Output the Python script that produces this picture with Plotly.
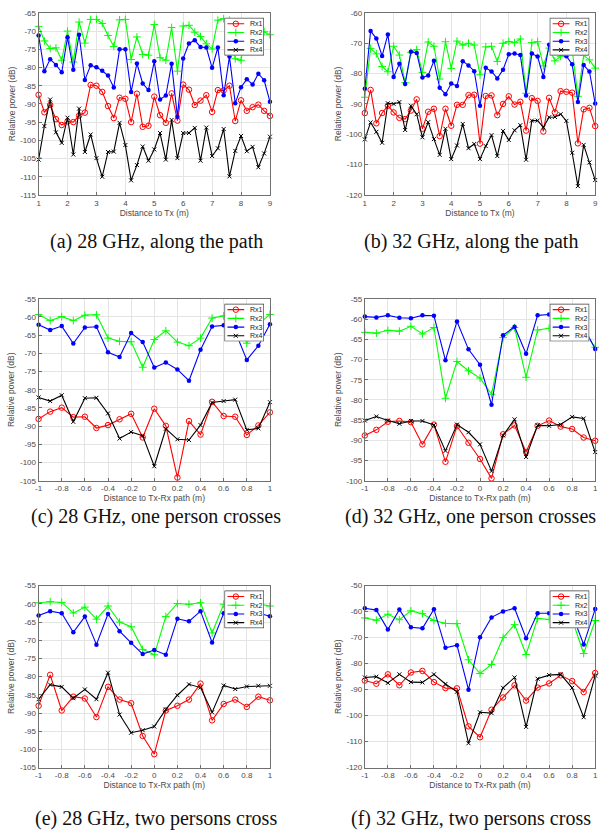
import plotly.graph_objects as go

W, H = 614, 835

# measurement positions
dist_path = [round(1 + 0.2 * i, 1) for i in range(41)]      # 1 .. 9 m
dist_cross = [round(-1 + 0.1 * i, 1) for i in range(21)]    # -1 .. 1 m

# (a) 28 GHz, along the path
a_rx1 = [-87.5, -92.3, -90.3, -94.2, -95.8, -94.8, -95.0, -93.2, -92.4, -84.8, -85.0, -86.7, -90.6, -93.9,
         -88.3, -88.6, -95.0, -87.2, -96.3, -96.0, -88.0, -93.1, -95.2, -87.1, -94.6, -84.7, -86.1, -90.3,
         -89.1, -87.6, -92.2, -86.2, -86.3, -85.0, -94.7, -89.0, -91.9, -90.9, -90.2, -91.9, -93.3]
a_rx2 = [-68.7, -72.7, -74.8, -74.6, -78.0, -70.0, -78.5, -67.5, -73.3, -66.8, -66.8, -67.9, -71.2, -74.2,
         -66.9, -66.8, -77.8, -71.6, -76.4, -76.6, -68.2, -77.3, -78.0, -69.0, -81.0, -68.6, -68.4, -70.3,
         -71.5, -73.5, -74.9, -67.0, -66.6, -67.0, -77.6, -78.0, -69.0, -68.0, -69.0, -70.2, -71.0]
a_rx3 = [-71.2, -81.0, -77.7, -79.3, -81.3, -71.7, -80.6, -71.0, -83.4, -79.4, -79.9, -80.9, -82.2, -85.5,
         -75.0, -75.0, -86.7, -78.9, -84.4, -86.2, -78.3, -88.8, -87.7, -79.0, -93.5, -77.5, -73.4, -72.5,
         -74.4, -74.5, -80.1, -74.5, -87.6, -77.0, -89.8, -85.4, -83.2, -84.7, -81.7, -83.5, -89.4]
a_rx4 = [-105.3, -96.1, -88.8, -97.8, -100.7, -93.8, -103.9, -91.3, -103.2, -98.4, -104.9, -110.0, -103.2,
         -103.1, -95.2, -101.3, -111.0, -106.8, -101.7, -105.6, -102.5, -98.0, -105.3, -94.4, -104.9, -98.0,
         -98.0, -96.6, -105.6, -96.5, -104.3, -102.2, -96.9, -109.9, -102.9, -98.8, -103.0, -101.8, -107.4,
         -103.6, -99.0]

# (b) 32 GHz, along the path
b_rx1 = [-93.0, -85.4, -96.4, -93.0, -90.6, -92.8, -94.6, -95.0, -92.2, -88.5, -98.2, -92.6, -91.6, -100.6,
         -91.6, -97.2, -90.3, -90.3, -87.1, -87.0, -103.1, -87.4, -87.2, -93.7, -90.0, -87.5, -90.2, -89.3,
         -98.8, -88.1, -89.0, -99.1, -88.0, -92.8, -85.8, -86.0, -86.3, -103.0, -91.8, -91.3, -97.3]
b_rx2 = [-87.8, -71.7, -73.5, -77.7, -79.4, -71.0, -73.9, -83.0, -73.0, -72.1, -79.6, -69.6, -71.0, -81.8,
         -69.5, -78.3, -69.3, -70.6, -70.0, -70.6, -80.4, -71.2, -71.0, -76.0, -70.0, -69.4, -69.8, -68.6,
         -86.5, -69.8, -69.5, -77.5, -71.6, -75.8, -74.3, -73.0, -72.0, -87.5, -74.0, -75.5, -78.2]
b_rx3 = [-85.0, -66.0, -68.4, -74.2, -67.1, -81.1, -76.8, -83.4, -72.8, -73.2, -81.3, -80.6, -75.8, -84.7,
         -86.8, -83.3, -84.1, -75.9, -77.3, -79.2, -90.6, -78.1, -79.3, -81.6, -78.7, -73.6, -73.4, -73.9,
         -87.2, -73.4, -74.4, -81.1, -70.5, -70.0, -73.5, -74.3, -76.9, -89.4, -77.2, -79.3, -89.9]
b_rx4 = [-101.7, -96.1, -99.2, -102.8, -89.8, -90.0, -89.4, -98.6, -90.6, -93.4, -101.0, -96.0, -101.6,
         -106.8, -98.2, -108.2, -103.7, -96.6, -104.6, -103.2, -108.2, -103.9, -100.3, -107.2, -98.9, -101.9,
         -98.7, -97.0, -108.4, -95.5, -95.5, -97.7, -94.4, -94.3, -93.4, -95.6, -106.1, -117.1, -103.5,
         -109.3, -115.1]

# (c) 28 GHz, one person crosses
c_rx1 = [-88.0, -86.0, -84.9, -87.5, -87.4, -90.5, -89.7, -88.1, -86.6, -93.1, -85.2, -89.9, -104.1, -88.6,
         -92.3, -83.3, -87.2, -87.4, -92.4, -89.8, -86.2]
c_rx2 = [-59.3, -61.0, -59.9, -61.0, -59.5, -59.4, -65.8, -66.7, -66.8, -73.8, -66.2, -63.8, -66.9, -67.9,
         -65.8, -60.3, -59.7, -60.0, -67.2, -62.0, -59.3]
c_rx3 = [-62.1, -63.6, -62.5, -67.3, -62.9, -62.7, -69.7, -71.0, -64.4, -66.9, -73.9, -72.5, -74.4, -77.5,
         -69.0, -62.6, -62.3, -64.0, -71.8, -67.9, -62.0]
c_rx4 = [-82.1, -83.1, -81.5, -88.8, -82.3, -82.2, -86.5, -93.4, -91.6, -92.6, -101.0, -90.7, -93.6, -93.8,
         -89.7, -83.5, -83.1, -82.7, -91.0, -90.6, -83.4]

# (d) 32 GHz, one person crosses
d_rx1 = [-88.8, -87.4, -85.4, -85.2, -85.5, -91.0, -86.1, -95.3, -86.5, -90.6, -94.6, -99.4, -88.5, -86.3,
         -92.9, -86.4, -85.1, -86.6, -87.2, -89.3, -90.1]
d_rx2 = [-63.3, -63.5, -62.8, -63.0, -61.8, -63.7, -62.1, -79.6, -70.5, -72.8, -74.6, -78.6, -64.6, -62.1,
         -74.4, -62.7, -62.3, -62.0, -63.0, -63.0, -67.0]
d_rx3 = [-59.4, -59.6, -59.1, -59.7, -59.8, -59.1, -59.2, -70.2, -60.6, -67.5, -71.3, -81.2, -64.0, -61.9,
         -68.6, -59.1, -58.9, -59.0, -58.5, -62.0, -67.4]
d_rx4 = [-85.1, -84.1, -85.1, -85.9, -85.2, -85.2, -86.2, -92.6, -86.1, -88.0, -91.0, -97.6, -88.8, -84.8,
         -94.1, -86.3, -86.4, -86.1, -84.2, -84.6, -92.9]

# (e) 28 GHz, two persons cross
e_rx1 = [-88.0, -79.5, -89.3, -85.5, -86.0, -91.1, -82.8, -86.3, -87.3, -96.3, -101.3, -89.3, -88.0, -86.3,
         -81.9, -92.0, -87.5, -86.3, -88.3, -85.5, -86.5]
e_rx2 = [-59.7, -59.4, -59.6, -62.5, -60.9, -64.2, -60.6, -65.0, -66.3, -72.5, -74.0, -63.5, -59.9, -60.1,
         -59.7, -68.0, -60.1, -60.0, -60.0, -60.0, -60.6]
e_rx3 = [-63.2, -62.0, -62.6, -67.8, -63.5, -71.2, -62.8, -67.5, -70.7, -73.8, -72.7, -74.0, -64.1, -64.8,
         -62.0, -70.6, -62.6, -63.0, -63.0, -62.5, -63.4]
e_rx4 = [-86.2, -82.2, -82.8, -85.9, -83.5, -86.2, -78.9, -90.4, -95.4, -94.7, -93.7, -89.0, -85.1, -82.1,
         -83.0, -89.8, -82.4, -83.4, -82.7, -82.5, -82.5]

# (f) 32 GHz, two persons cross
f_rx1 = [-86.5, -87.7, -84.1, -88.3, -83.4, -82.8, -87.1, -89.4, -89.5, -104.1, -108.3, -97.7, -93.0, -88.3,
         -94.2, -89.2, -87.6, -84.5, -86.7, -90.9, -83.6]
f_rx2 = [-62.4, -63.3, -61.0, -63.1, -59.7, -60.8, -63.4, -64.5, -64.6, -78.5, -83.8, -80.3, -70.0, -65.0,
         -76.5, -62.6, -63.0, -62.0, -63.0, -76.1, -63.4]
f_rx3 = [-58.7, -59.4, -66.9, -59.2, -66.0, -66.4, -59.1, -73.9, -72.9, -90.0, -69.8, -62.2, -59.9, -58.7,
         -70.2, -60.6, -60.6, -60.0, -61.0, -72.6, -59.0]
f_rx4 = [-85.3, -85.0, -87.4, -84.1, -87.1, -87.2, -84.1, -87.8, -90.8, -110.6, -98.7, -99.0, -89.3, -85.3,
         -104.3, -85.8, -84.4, -84.1, -89.3, -100.6, -84.6]

# tick positions and labels
xticks_path = [1, 2, 3, 4, 5, 6, 7, 8, 9]
xticks_cross = [-1, -0.8, -0.6, -0.4, -0.2, 0, 0.2, 0.4, 0.6, 0.8, 1]
xtext_path = ["1", "2", "3", "4", "5", "6", "7", "8", "9"]
xtext_cross = ["-1", "-0.8", "-0.6", "-0.4", "-0.2", "0", "0.2", "0.4", "0.6", "0.8", "1"]
yticks_a = list(range(-115, -64, 5))
yticks_b = list(range(-120, -59, 10))
yticks_c = list(range(-105, -54, 5))
yticks_d = list(range(-100, -54, 5))
yticks_e = list(range(-105, -54, 5))
yticks_f = list(range(-120, -49, 10))

receivers = ["Rx1", "Rx2", "Rx3", "Rx4"]
captions = ["(a) 28 GHz, along the path", "(b) 32 GHz, along the path",
            "(c) 28 GHz, one person crosses", "(d) 32 GHz, one person crosses",
            "(e) 28 GHz, two persons cross", "(f) 32 GHz, two persons cross"]

# line/marker style per receiver: colour, symbol, size
STYLE = [
    ("#ff0000", "circle-open", 5.5),
    ("#00ff00", "cross-thin-open", 5.5),
    ("#0000ff", "circle", 4.5),
    ("#000000", "x-thin-open", 4),
]

# panel frame in pixels: left, right, top, bottom; caption centre
panels = [
    dict(x=dist_path, ys=[a_rx1, a_rx2, a_rx3, a_rx4], xr=[1, 9], yt=yticks_a,
         xt=xticks_path, xtt=xtext_path, xlab="Distance to Tx (m)", box=(35, 269, 9, 193), cap=(154, 240)),
    dict(x=dist_path, ys=[b_rx1, b_rx2, b_rx3, b_rx4], xr=[1, 9], yt=yticks_b,
         xt=xticks_path, xtt=xtext_path, xlab="Distance to Tx (m)", box=(365, 598, 9, 193), cap=(472, 240)),
    dict(x=dist_cross, ys=[c_rx1, c_rx2, c_rx3, c_rx4], xr=[-1, 1], yt=yticks_c,
         xt=xticks_cross, xtt=xtext_cross, xlab="Distance to Tx-Rx path (m)", box=(35, 269, 298, 482), cap=(154, 518)),
    dict(x=dist_cross, ys=[d_rx1, d_rx2, d_rx3, d_rx4], xr=[-1, 1], yt=yticks_d,
         xt=xticks_cross, xtt=xtext_cross, xlab="Distance to Tx-Rx path (m)", box=(365, 598, 298, 482), cap=(472, 518)),
    dict(x=dist_cross, ys=[e_rx1, e_rx2, e_rx3, e_rx4], xr=[-1, 1], yt=yticks_e,
         xt=xticks_cross, xtt=xtext_cross, xlab="Distance to Tx-Rx path (m)", box=(35, 269, 588, 772), cap=(154, 823)),
    dict(x=dist_cross, ys=[f_rx1, f_rx2, f_rx3, f_rx4], xr=[-1, 1], yt=yticks_f,
         xt=xticks_cross, xtt=xtext_cross, xlab="Distance to Tx-Rx path (m)", box=(365, 598, 588, 772), cap=(472, 823)),
]

AXIS_COLOR = "#707070"
GRID_COLOR = "#e4e4e4"
TICK_FONT = dict(family="Liberation Sans, Arial, sans-serif", size=8, color="#4a4a4a")
TITLE_FONT = dict(family="Liberation Sans, Arial, sans-serif", size=8.5, color="#4a4a4a")


def marker_for(k):
    color, symbol, size = STYLE[k]
    if symbol == "circle":
        return dict(symbol=symbol, size=size, color=color, line=dict(width=0))
    return dict(symbol=symbol, size=size, color=color, line=dict(width=1, color=color))


fig = go.Figure()
layout = {}
annotations = []

for i, p in enumerate(panels):
    n = i + 1
    sfx = "" if n == 1 else str(n)
    l, r, t, b = p["box"]
    for k, ys in enumerate(p["ys"]):
        color = STYLE[k][0]
        fig.add_trace(go.Scatter(
            x=p["x"], y=ys, mode="lines+markers", name=receivers[k],
            line=dict(color=color, width=1.1), marker=marker_for(k),
            cliponaxis=False, showlegend=False,
            xaxis="x" + sfx, yaxis="y" + sfx,
        ))
    yt = p["yt"]
    layout["xaxis" + sfx] = dict(
        domain=[l / W, r / W], range=p["xr"], anchor="y" + sfx,
        tickvals=p["xt"], ticktext=p["xtt"], tickfont=TICK_FONT,
        showgrid=True, gridcolor=GRID_COLOR, gridwidth=1, zeroline=False,
        showline=True, linecolor=AXIS_COLOR, linewidth=1, mirror=True,
        ticks="inside", ticklen=3, tickcolor=AXIS_COLOR,
        title=dict(text=p["xlab"], font=TITLE_FONT, standoff=2),
    )
    layout["yaxis" + sfx] = dict(
        domain=[1 - b / H, 1 - t / H], range=[yt[0], yt[-1]], anchor="x" + sfx,
        tickvals=yt, ticktext=[str(v) for v in yt], tickfont=TICK_FONT,
        showgrid=True, gridcolor=GRID_COLOR, gridwidth=1, zeroline=False,
        showline=True, linecolor=AXIS_COLOR, linewidth=1, mirror=True,
        ticks="inside", ticklen=3, tickcolor=AXIS_COLOR,
        title=dict(text="Relative power (dB)", font=TITLE_FONT, standoff=3),
    )
    annotations.append(dict(
        text=captions[i], xref="paper", yref="paper",
        x=p["cap"][0] / W, y=1 - p["cap"][1] / H, xanchor="center", yanchor="middle",
        showarrow=False, font=dict(family="Liberation Serif, Times New Roman, serif", size=20, color="#111"),
    ))

# per-panel legend boxes, drawn on small overlay axes in pixel units
LW, LH = 40, 38
for i, p in enumerate(panels):
    n = 7 + i
    l, r, t, b = p["box"]
    bx1 = r - 6
    bx0 = bx1 - LW
    by0 = t + 5
    by1 = by0 + LH
    xa, ya = "x" + str(n), "y" + str(n)
    layout["xaxis" + str(n)] = dict(domain=[bx0 / W, bx1 / W], range=[0, LW], visible=False,
                                    anchor=ya, fixedrange=True)
    layout["yaxis" + str(n)] = dict(domain=[1 - by1 / H, 1 - by0 / H], range=[LH, 0], visible=False,
                                    anchor=xa, fixedrange=True)
    fig.add_trace(go.Scatter(
        x=[0, LW, LW, 0, 0], y=[0, 0, LH, LH, 0], mode="lines", fill="toself",
        fillcolor="white", line=dict(color="#3a3a3a", width=1.3),
        hoverinfo="skip", showlegend=False, cliponaxis=False, xaxis=xa, yaxis=ya,
    ))
    for k in range(4):
        yy = 6 + 8.8 * k
        color = STYLE[k][0]
        fig.add_trace(go.Scatter(
            x=[3, 20], y=[yy, yy], mode="lines", line=dict(color=color, width=1.1),
            hoverinfo="skip", showlegend=False, xaxis=xa, yaxis=ya,
        ))
        fig.add_trace(go.Scatter(
            x=[11.5], y=[yy], mode="markers", marker=marker_for(k),
            hoverinfo="skip", showlegend=False, xaxis=xa, yaxis=ya,
        ))
        annotations.append(dict(
            text=receivers[k], xref=xa, yref=ya, x=24, y=yy, xanchor="left", yanchor="middle",
            showarrow=False, font=dict(family="Liberation Sans, Arial, sans-serif", size=7, color="#222"),
        ))

fig.update_layout(
    width=W, height=H, margin=dict(l=0, r=0, t=0, b=0),
    paper_bgcolor="white", plot_bgcolor="white",
    showlegend=False, annotations=annotations, **layout,
)

fig.write_html("out.html", include_plotlyjs=True, config=dict(displayModeBar=False))
